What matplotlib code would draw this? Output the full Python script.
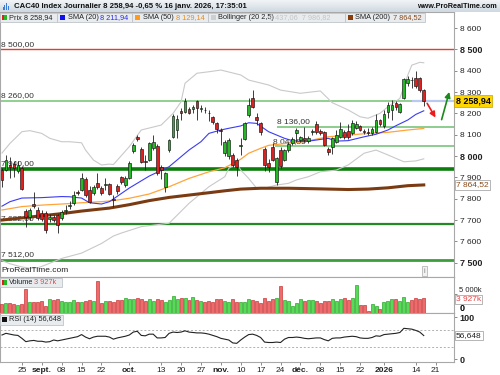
import numpy as np
import matplotlib.pyplot as plt
import matplotlib.transforms as mtransforms
from matplotlib.patches import Rectangle

plt.rcParams['font.family'] = ['Liberation Sans', 'DejaVu Sans']

# ---- data (one candle per trading day, 18 aug 2025 -> 16 jan 2026)
opens = [7934, 7934, 7958, 7962, 7932, 7945, 7740, 7715, 7775, 7747,
         7735, 7733, 7705, 7712, 7723, 7710, 7742, 7765, 7780, 7833,
         7840, 7892, 7840, 7827, 7873, 7850, 7866, 7868, 7800, 7860,
         7900, 7865, 7897, 8023, 8090, 8033, 7975, 7981, 8038, 8047,
         7948, 7855, 8028, 8090, 8120, 8212, 8207, 8222, 8222, 8258,
         8222, 8218, 8203, 8183, 8155, 8122, 8015, 8000, 8005, 7982,
         8045, 8080, 8192, 8272, 8183, 8155, 8035, 7968, 8042, 7878,
         8030, 7981, 8030, 8060, 8108, 8075, 8085, 8071, 8113, 8150,
         8115, 8112, 8033, 8042, 8066, 8089, 8113, 8117, 8108, 8130,
         8140, 8117, 8113, 8108, 8113, 8168, 8140, 8205, 8215, 8248,
         8206, 8270, 8342, 8358, 8365, 8365, 8310]
highs = [7945, 8005, 7995, 7975, 7978, 7952, 7750, 7755, 7830, 7760,
         7745, 7740, 7730, 7725, 7730, 7745, 7770, 7790, 7835, 7840,
         7920, 7900, 7860, 7865, 7920, 7860, 7895, 7875, 7815, 7870,
         7905, 7905, 7975, 8060, 8100, 8040, 8005, 8065, 8098, 8055,
         7960, 7925, 8080, 8195, 8190, 8225, 8272, 8230, 8240, 8262,
         8240, 8230, 8215, 8188, 8160, 8130, 8075, 8085, 8012, 7990,
         8084, 8160, 8272, 8310, 8200, 8160, 8040, 7985, 8060, 7995,
         8040, 8035, 8065, 8090, 8130, 8095, 8135, 8095, 8125, 8165,
         8125, 8118, 8040, 8090, 8120, 8160, 8120, 8150, 8170, 8165,
         8145, 8125, 8130, 8135, 8195, 8172, 8215, 8255, 8262, 8258,
         8250, 8365, 8375, 8370, 8400, 8372, 8315]
lows = [7856, 7930, 7895, 7900, 7920, 7840, 7668, 7700, 7755, 7700,
        7695, 7640, 7690, 7690, 7640, 7700, 7730, 7750, 7770, 7815,
        7835, 7810, 7780, 7815, 7845, 7815, 7840, 7815, 7760, 7820,
        7870, 7855, 7890, 8015, 8070, 7965, 7935, 7975, 8030, 7912,
        7890, 7830, 8020, 8085, 8085, 8170, 8200, 8195, 8200, 8170,
        8205, 8200, 8165, 8150, 8110, 8050, 8000, 7985, 7950, 7908,
        8005, 8075, 8185, 8225, 8145, 8100, 7930, 7925, 7975, 7862,
        7945, 7975, 8020, 8050, 8065, 8065, 8065, 8060, 8100, 8105,
        8100, 8045, 8005, 8010, 8060, 8085, 8080, 8082, 8100, 8125,
        8115, 8105, 8100, 8100, 8110, 8140, 8130, 8180, 8170, 8215,
        8200, 8265, 8330, 8318, 8320, 8300, 8235]
closes = [7888, 7982, 7950, 7945, 7960, 7845, 7712, 7747, 7765, 7710,
          7705, 7653, 7712, 7700, 7676, 7737, 7748, 7772, 7817, 7826,
          7897, 7817, 7785, 7855, 7855, 7827, 7870, 7822, 7795, 7835,
          7878, 7897, 7967, 8052, 8080, 7972, 7970, 8061, 8066, 7920,
          7934, 7920, 8075, 8188, 8174, 8202, 8258, 8203, 8228, 8225,
          8226, 8214, 8200, 8160, 8127, 8115, 8066, 8075, 7958, 7950,
          8052, 8155, 8240, 8230, 8169, 8112, 7960, 7950, 7981, 7990,
          7955, 8028, 8055, 8080, 8122, 8089, 8075, 8085, 8118, 8113,
          8110, 8052, 8019, 8084, 8098, 8127, 8089, 8089, 8155, 8150,
          8122, 8113, 8108, 8127, 8169, 8150, 8195, 8238, 8239, 8229,
          8243, 8360, 8360, 8354, 8328, 8310, 8258.94]
volumes_k = [2280, 2550, 2550, 2370, 2090, 2370, 6460, 3000, 3000, 3000,
             3280, 1820, 3730, 3460, 3640, 3280, 2820, 3000, 3460, 3000,
             3000, 3280, 3460, 3280, 8650, 2550, 3190, 3280, 2820, 3460,
             3460, 3910, 3730, 3640, 4100, 3730, 3280, 3730, 3280, 3730,
             3550, 3000, 3460, 4640, 3640, 4100, 3910, 3370, 4370, 3460,
             3190, 2820, 3190, 3000, 3730, 3730, 3190, 2820, 3730, 3000,
             3000, 2820, 3730, 3460, 3280, 2550, 3910, 3280, 3730, 4100,
             7280, 3460, 3280, 1820, 2550, 3640, 3190, 3460, 3460, 3190,
             2730, 3190, 3190, 3640, 3280, 3730, 4100, 3460, 4100, 7550,
             2090, 2090, 460, 2280, 1910, 1000, 2820, 3280, 3640, 3640,
             3190, 4190, 3000, 3460, 3910, 3730, 3927]
rsi = [58, 62, 60, 58, 57, 50, 42, 44, 45, 43,
       43, 41, 42, 46, 44, 46, 48, 50, 52, 54,
       59, 53, 49, 53, 55, 55, 55, 53, 48, 51,
       53, 55, 58, 65, 67, 57, 56, 60, 60, 51,
       51, 52, 62, 65, 64, 65, 68, 65, 64, 63,
       63, 62, 60, 57, 54, 50, 48, 46, 39, 38,
       46, 53, 59, 60, 57, 52, 41, 40, 40, 41,
       40, 48, 52, 52, 53, 52, 50, 49, 50, 51,
       51, 47, 44, 50, 51, 51, 53, 54, 55, 54,
       51, 50, 50, 52, 56, 55, 59, 60, 61, 62,
       64, 74, 73, 72, 69, 65, 56.648]

# indicator lines, read at sample days
sma20_day = [0, 2, 5, 10, 15, 17, 20, 22, 25, 27, 32, 37, 42, 47, 50, 52, 55, 57, 60,
             62, 64, 67, 71, 73, 76, 79, 82, 84, 87, 91, 94, 97, 99, 102, 104, 106]
sma20 = [7765, 7786, 7803, 7805, 7810, 7809, 7803, 7781, 7775, 7786, 7850, 7906, 7950,
         8028, 8067, 8106, 8122, 8130, 8141, 8156, 8153, 8114, 8083, 8072, 8067, 8075,
         8083, 8070, 8072, 8090, 8102, 8122, 8142, 8169, 8195, 8211.94]
sma50_day = [0, 5, 10, 15, 20, 25, 28, 32, 37, 42, 47, 52, 56, 60, 62, 65, 67, 70, 72,
             76, 80, 82, 87, 92, 97, 102, 106]
sma50 = [7747, 7763, 7770, 7775, 7781, 7786, 7791, 7802, 7822, 7856, 7895, 7926, 7945,
         7985, 8013, 8036, 8050, 8056, 8060, 8067, 8083, 8090, 8098, 8106, 8111, 8122,
         8129.14]
sma200_day = [0, 5, 10, 15, 20, 25, 27, 32, 37, 42, 47, 52, 56, 60, 65, 72, 80, 87, 92,
              97, 102, 106]
sma200 = [7700, 7710, 7720, 7730, 7742, 7752, 7756, 7772, 7791, 7806, 7817, 7828, 7837,
          7845, 7849, 7849, 7846, 7843, 7845, 7851, 7861, 7864.52]
boll_up_day = [0, 2, 5, 7, 10, 12, 15, 17, 20, 21, 23, 25, 27, 28, 32, 35, 40, 43, 45,
               46, 49, 52, 55, 60, 62, 67, 70, 75, 80, 83, 87, 90, 92, 95, 97, 100, 102,
               103, 105, 106]
boll_up = [8014, 8059, 8114, 8119, 8106, 8083, 8067, 8067, 8062, 8028, 7981, 7958, 7962,
           7960, 8044, 8122, 8145, 8200, 8254, 8341, 8388, 8395, 8403, 8380, 8356, 8333,
           8309, 8294, 8305, 8250, 8216, 8184, 8177, 8200, 8231, 8270, 8380, 8426, 8439,
           8437.06]
boll_lo_day = [0, 2, 5, 7, 9, 11, 15, 20, 25, 28, 30, 35, 42, 47, 52, 56, 57, 59, 60, 62,
               64, 66, 69, 72, 74, 77, 80, 84, 87, 91, 94, 97, 101, 104, 106]
boll_lo = [7510, 7495, 7480, 7474, 7476, 7490, 7520, 7545, 7590, 7625, 7639, 7669, 7685,
           7778, 7856, 7903, 7942, 7966, 7934, 7895, 7849, 7849, 7864, 7872, 7888, 7903,
           7926, 7934, 7958, 8013, 8028, 8005, 7973, 7977, 7986.82]

levels = [8500.00, 8260.00, 8136.00, 8044.85, 7940.00, 7682.00, 7512.00]
level_names = ['8 500,00', '8 260,00', '8 136,00', '8 044,85', '7 940,00', '7 682,00', '7 512,00']

tick_days = [5, 10, 15, 20, 25, 32, 40, 45, 50, 55, 60, 65, 70, 75, 80, 85, 90, 96, 104, 109]
tick_names = ['25', 'sept.', '08', '15', '22', 'oct.', '13', '20', '27', 'nov.', '10', '17',
              '24', 'déc.', '08', '15', '22', '2026', '14', '21']

last = 8258.94
arrow_red = [(106.5, 8258), (109.3, 8169)]
arrow_green = [(110.3, 8158), (112.6, 8313)]

# ---- figure in pixel layout
W, H = 500, 375
fig = plt.figure(figsize=(W / 100, H / 100), dpi=100)


def fx(x):
    return x / W


def fy(y):
    return 1 - y / H


def panel(y0, y1):
    return fig.add_axes([0, fy(y1), 454 / W, (y1 - y0) / H])


ax = panel(12, 277)
axv = panel(277, 313.3)
axr = panel(313.3, 361.7)

days = np.arange(len(closes))
o = np.array(opens, float)
c = np.array(closes, float)
up = c >= o

for a in (ax, axv, axr):
    a.set_xlim(-0.5, 113.6)
    for s in a.spines.values():
        s.set_color('#a8a8a8')
        s.set_linewidth(0.8)
    a.tick_params(axis='x', which='both', bottom=False, labelbottom=False)
    a.yaxis.tick_right()
    a.tick_params(axis='y', direction='out', length=2.5, width=0.6, color='#777', pad=1.5)

# ---- price panel
ax.set_ylim(7433, 8675)
ax.hlines(levels[0], -0.5, 113.6, color='#e83a30', lw=1.0, zorder=2)
ax.hlines(levels[1], -0.5, 113.6, color='#8fd08f', lw=1.4, zorder=2)
ax.hlines(levels[2], 69, 113.6, color='#6fbf6f', lw=1.1, zorder=2)
ax.hlines(levels[3], 68.5, 113.6, color='#6fbf6f', lw=1.1, zorder=2)
ax.hlines(levels[4], -0.5, 113.6, color='#0b7d0b', lw=2.6, zorder=2)
ax.hlines(levels[5], -0.5, 113.6, color='#238a23', lw=1.6, zorder=2)
ax.hlines(levels[6], -0.5, 113.6, color='#3a9f3a', lw=2.0, zorder=2)

lab_x = [-0.2, -0.2, 69.2, 68.2, -0.2, -0.2, -0.2]
for lv, name, lx in zip(levels, level_names, lab_x):
    ax.annotate(name, (lx, lv), xytext=(0, 1.2), textcoords='offset points',
                fontsize=6, color='#333', va='bottom', ha='left', zorder=2.5)

ax.plot(boll_up_day, boll_up, color='#c9c9c9', lw=0.8, zorder=2.6)
ax.plot(boll_lo_day, boll_lo, color='#c9c9c9', lw=0.8, zorder=2.6)
ax.plot(sma200_day, sma200, color='#7a3b12', lw=2.2, zorder=2.7)
ax.plot(sma50_day, sma50, color='#ffa53a', lw=0.9, zorder=2.8)
ax.plot(sma20_day, sma20, color='#3b3bf5', lw=0.8, zorder=2.9)

ax.hlines(last, 103, 113.6, color='#b9c9f0', lw=1.6, zorder=2.5)

ax.vlines(days, lows, highs, color='#1e1e1e', lw=0.6, zorder=3)
body_lo = np.minimum(o, c)
body_h = np.maximum(np.abs(c - o), 2.0)
ax.bar(days, body_h, bottom=body_lo, width=0.7,
       color=np.where(up, '#25b825', '#dd2020'), edgecolor='#151515', linewidth=0.45, zorder=4)

ax.annotate('', xy=arrow_red[1], xytext=arrow_red[0],
            arrowprops=dict(arrowstyle='-|>', color='#ee1a1a', lw=1.2, mutation_scale=8), zorder=5)
ax.annotate('', xy=arrow_green[1], xytext=arrow_green[0],
            arrowprops=dict(arrowstyle='-|>', color='#1b8a1b', lw=1.2, mutation_scale=8), zorder=5)

pticks = np.arange(7500, 8601, 100)
ax.set_yticks(pticks)
ax.set_yticklabels([f'{t:,}'.replace(',', ' ') for t in pticks], fontsize=6, color='#222')
for t, lab in zip(pticks, ax.get_yticklabels()):
    if t % 500 == 0:
        lab.set_fontweight('bold')
        lab.set_fontsize(6.5)

tr = mtransforms.blended_transform_factory(ax.transAxes, ax.transData)
ax.text(1.004, last, '8 258,94', transform=tr, fontsize=6.5, fontweight='bold', va='center',
        ha='left', clip_on=False, zorder=6,
        bbox=dict(boxstyle='square,pad=0.18', fc='#ffd500', ec='#c8a200', lw=0.5))
ax.text(1.004, sma200[-1], '7 864,52', transform=tr, fontsize=6, color='#8a4a1a', va='center',
        ha='left', clip_on=False, zorder=6,
        bbox=dict(boxstyle='square,pad=0.15', fc='white', ec='#999', lw=0.5))
ax.text(0.935, 0.022, 'i', transform=ax.transAxes, fontsize=5, color='#777', ha='center',
        va='center', bbox=dict(boxstyle='square,pad=0.25', fc='#f2f2f2', ec='#aaa', lw=0.5))
ax.text(0.004, 0.012, 'ProRealTime.com', transform=ax.transAxes, fontsize=6, color='#222',
        ha='left', va='bottom')

# ---- volume panel
axv.set_ylim(-150, 9780)
axv.bar(days, volumes_k, width=0.75, color=np.where(up, '#55db55', '#ef6b6b'),
        edgecolor=np.where(up, '#1f9e1f', '#c42c2c'), linewidth=0.45, zorder=3)
axv.set_yticks([5000])
axv.set_yticklabels([''])
trv = mtransforms.blended_transform_factory(axv.transAxes, axv.transData)
axv.text(1.012, 5000, '5 000k', transform=trv, fontsize=5.5, color='#222', va='bottom',
         ha='left', clip_on=False)
axv.text(1.012, 0, '0', transform=trv, fontsize=6.5, fontweight='bold', va='bottom', ha='left',
         clip_on=False)
axv.text(1.004, volumes_k[-1] - 250, '3 927k', transform=trv, fontsize=6, color='#e04848',
         va='center', ha='left', clip_on=False, zorder=6,
         bbox=dict(boxstyle='square,pad=0.12', fc='white', ec='#999', lw=0.5))

# ---- RSI panel
axr.set_ylim(-6, 110)
axr.hlines([70, 30], -0.5, 113.6, color='#b0b0b0', lw=0.7, linestyles=(0, (2, 2)), zorder=2)
axr.plot(days, rsi, color='#222', lw=0.8, zorder=3)
axr.set_yticks([0, 100])
axr.set_yticklabels(['0', '100'], fontsize=6.5, fontweight='bold', color='#222')
trr = mtransforms.blended_transform_factory(axr.transAxes, axr.transData)
axr.text(1.004, rsi[-1], '56,648', transform=trr, fontsize=6, color='#222', va='center',
         ha='left', clip_on=False, zorder=6,
         bbox=dict(boxstyle='square,pad=0.15', fc='white', ec='#999', lw=0.5))

axr.tick_params(axis='x', bottom=True, labelbottom=True, direction='out', length=2.5,
                width=0.6, color='#777', pad=1.5)
axr.set_xticks(tick_days)
axr.set_xticklabels(tick_names, fontsize=6, color='#222')
for name, lab in zip(tick_names, axr.get_xticklabels()):
    if not name.isdigit() or name == '2026':
        lab.set_fontweight('bold')

# ---- title bar and legend strips
tb = fig.add_axes([0, fy(12), 1, 12 / H])
tb.imshow(np.linspace(0, 1, 20).reshape(-1, 1), aspect='auto',
          cmap=plt.cm.colors.LinearSegmentedColormap.from_list('g', ['#f1f4f7', '#cfd9e1']),
          extent=(0, 1, 0, 1))
tb.set_axis_off()
for k, h in enumerate([3, 5, 7, 4]):
    fig.add_artist(Rectangle((fx(2.5 + 1.7 * k), fy(10)), 1.1 / W, h / H, transform=fig.transFigure,
                             fc='#3a7bd5', ec='none'))
fig.text(fx(14), fy(6.3), 'CAC40 Index Journalier 8 258,94 -0,65 % 16 janv. 2026, 17:35:01',
         fontsize=5.6, fontweight='bold', color='#111', va='center', ha='left')
fig.text(fx(497), fy(6.3), 'www.ProRealTime.com', fontsize=5.2, fontweight='bold', color='#111',
         va='center', ha='right')


def strip(x0, x1, y0, y1):
    fig.add_artist(Rectangle((fx(x0), fy(y1)), (x1 - x0) / W, (y1 - y0) / H,
                             transform=fig.transFigure, fc='#e9ecef', ec='#bfc4c9', lw=0.6, zorder=10))


def swatch(x, y, col, col2=None):
    if col2 is None:
        fig.add_artist(Rectangle((fx(x), fy(y + 2.6)), 5.2 / W, 5.2 / H, transform=fig.transFigure,
                                 fc=col, ec='none', zorder=11))
    else:
        fig.add_artist(Rectangle((fx(x), fy(y + 2.6)), 2.6 / W, 5.2 / H, transform=fig.transFigure,
                                 fc=col, ec='none', zorder=11))
        fig.add_artist(Rectangle((fx(x + 2.6), fy(y + 2.6)), 2.6 / W, 5.2 / H,
                                 transform=fig.transFigure, fc=col2, ec='none', zorder=11))


def label(x, y, s, col='#222'):
    fig.text(fx(x), fy(y), s, fontsize=5.3, color=col, va='center', ha='left', zorder=12)


yl = 17.5
strip(0, 57, 13, 22)
swatch(1.5, yl, '#dd2020', '#25b825')
label(9, yl, 'Prix 8 258,94')
strip(57, 132, 13, 22)
swatch(59.5, yl, '#1010ee')
label(68, yl, 'SMA (20)')
label(100, yl, '8 211,94', '#2a2ae8')
strip(132, 208, 13, 22)
swatch(134.5, yl, '#ff9a1a')
label(143, yl, 'SMA (50)')
label(176, yl, '8 129,14', '#f08a10')
strip(208, 345, 13, 22)
swatch(210.5, yl, '#cfcfcf')
label(218, yl, 'Bollinger (20 2,5)')
label(269, yl, '8 437,06  7 986,82', '#c4c4c4')
strip(345, 425, 13, 22)
swatch(347.5, yl, '#8a3c0c')
label(355, yl, 'SMA (200)')
label(393, yl, '7 864,52', '#8a4a1a')

strip(0, 62, 278, 287)
swatch(1.5, 282.5, '#dd2020', '#25b825')
label(9, 282.5, 'Volume')
label(34, 282.5, '3 927k', '#e04848')
strip(0, 63, 314.5, 324.5)
swatch(1.5, 319.5, '#111111')
label(9, 319.5, 'RSI (14) 56,648')

fig.savefig('out.png', dpi=100)
